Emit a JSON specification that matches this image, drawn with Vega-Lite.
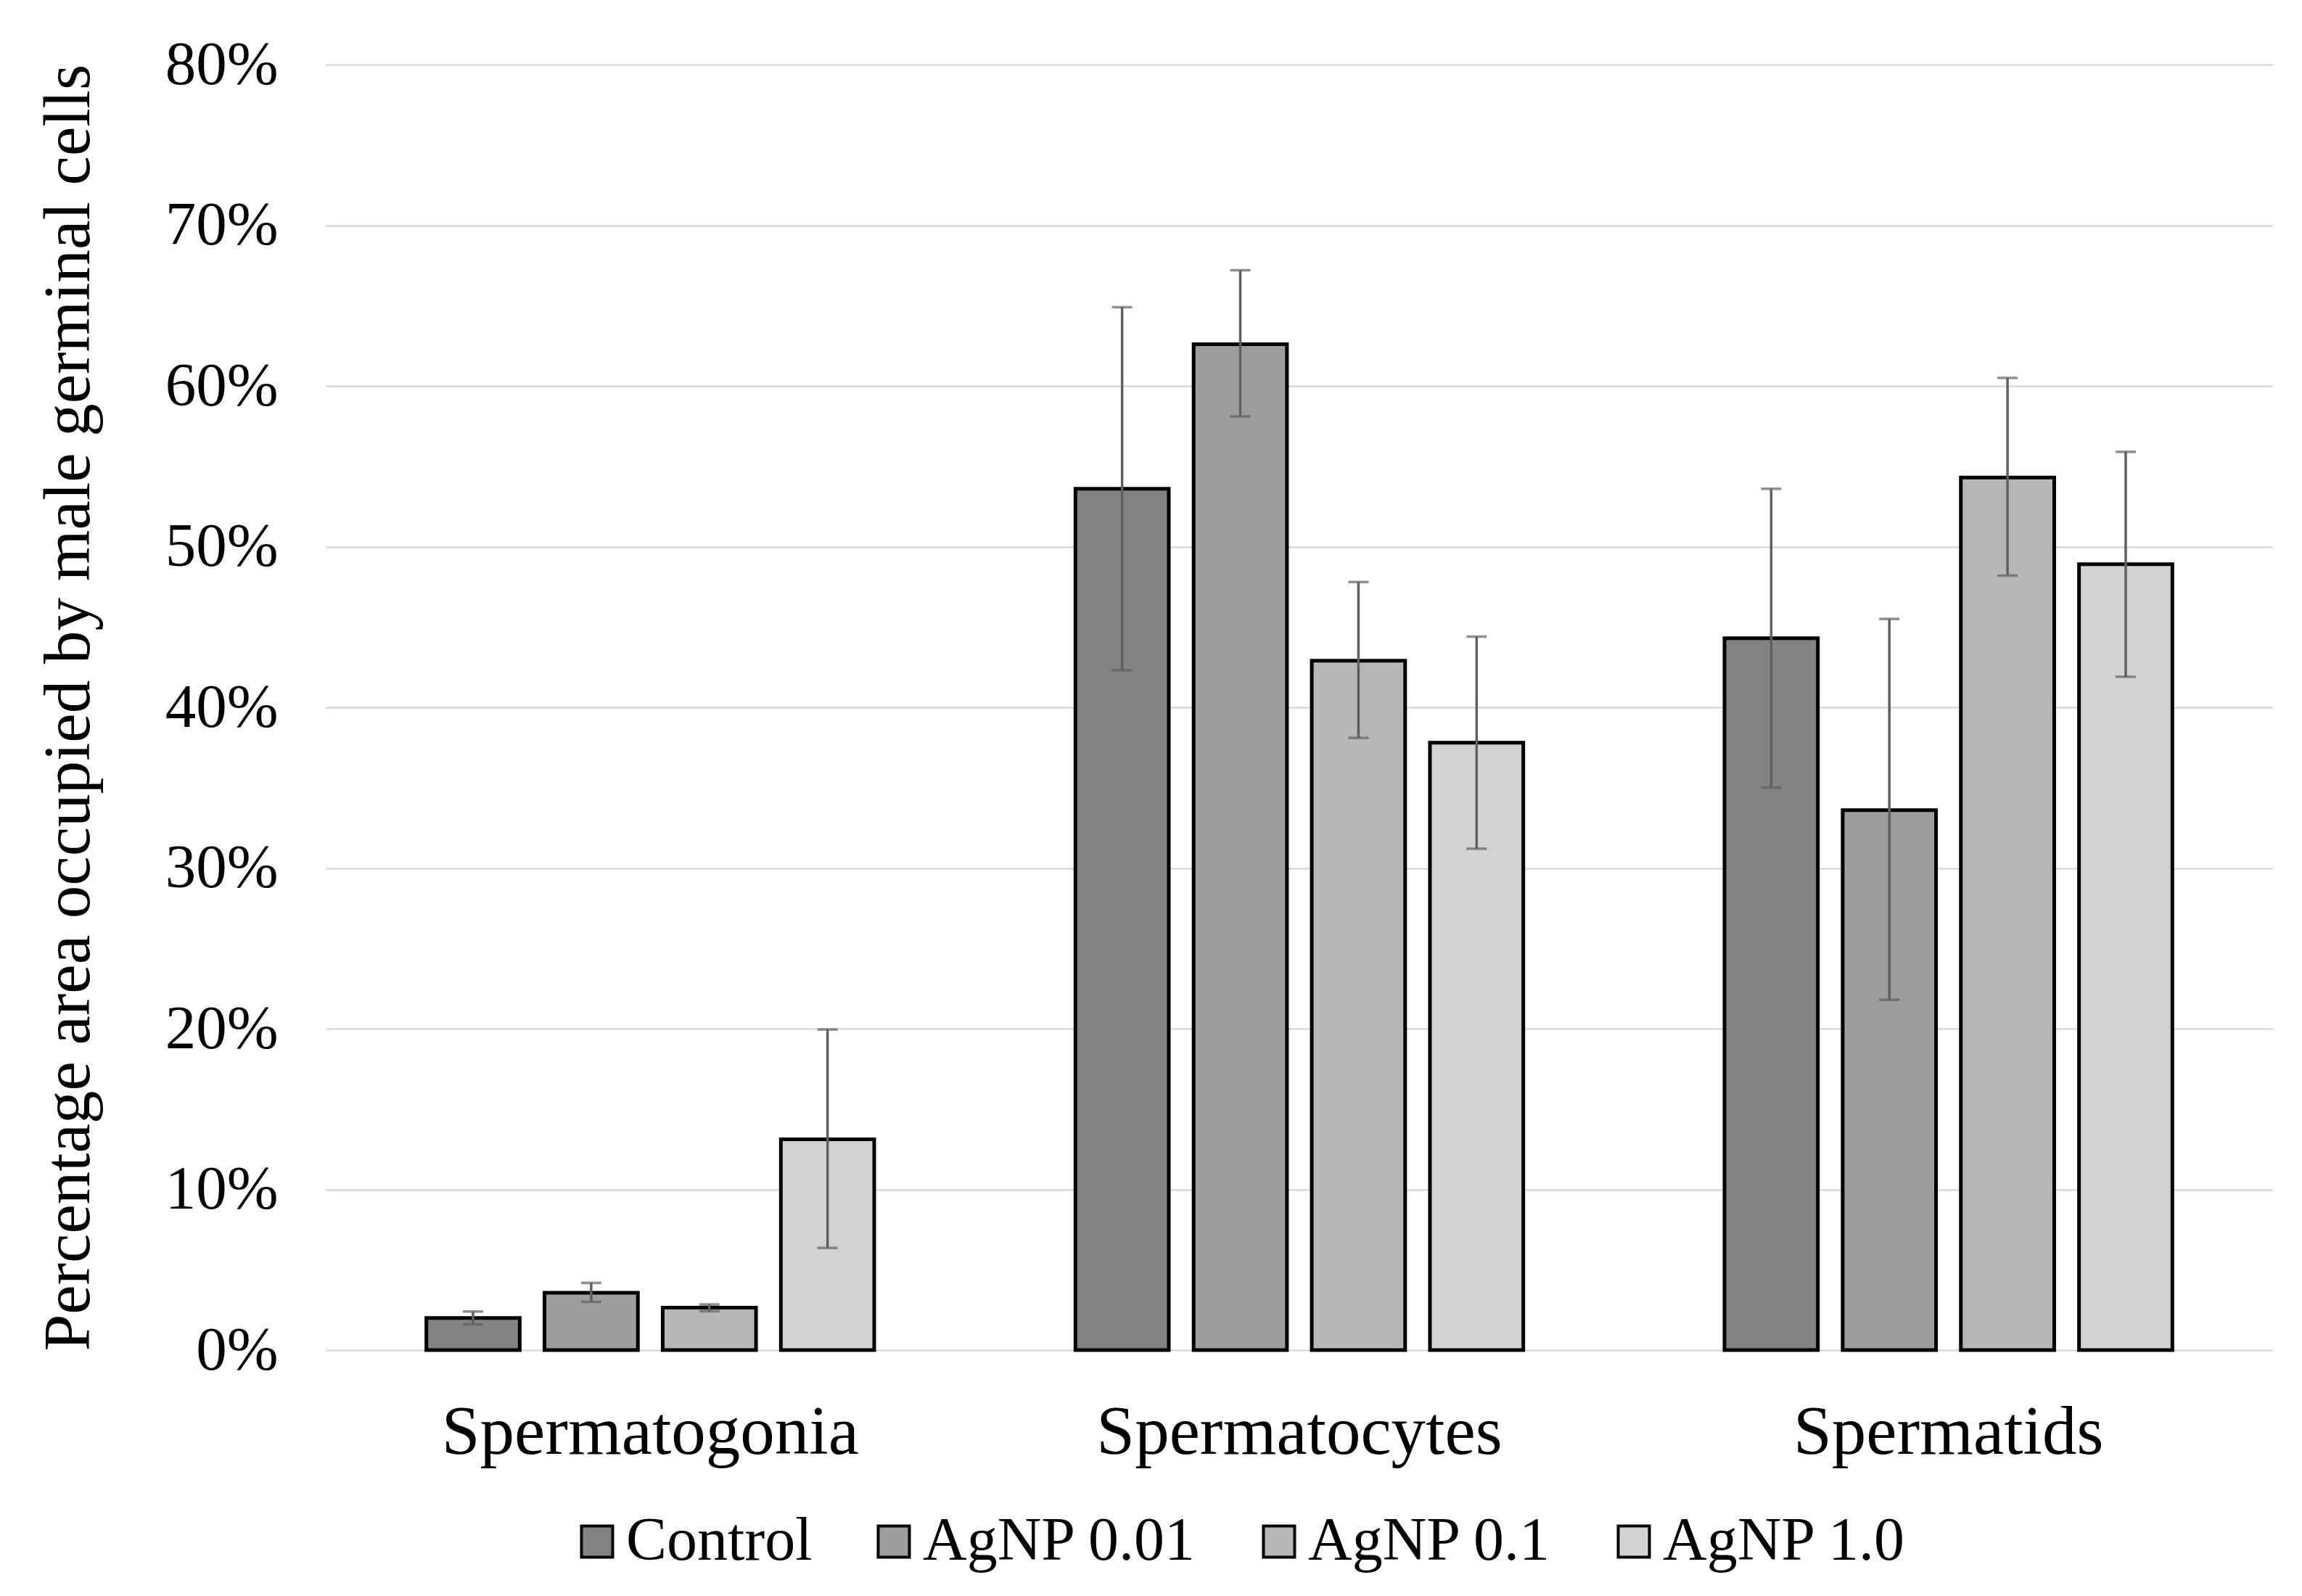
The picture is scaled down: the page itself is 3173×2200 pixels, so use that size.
{
  "$schema": "https://vega.github.io/schema/vega-lite/v6.json",
  "autosize": {"type": "none"},
  "width": 2684,
  "height": 1772,
  "padding": {"left": 449, "top": 89, "right": 40, "bottom": 339},
  "background": "white",
  "config": {
    "font": "Liberation Serif",
    "view": {"stroke": null},
    "axis": {"labelColor": "black", "titleColor": "black", "labelFont": "Liberation Serif", "titleFont": "Liberation Serif"},
    "legend": {"labelFont": "Liberation Serif", "labelColor": "black"}
  },
  "data": {
    "values": [
      {"cell": "Spermatogonia", "group": "Control", "mean": 2.0, "lo": 1.6, "hi": 2.4},
      {"cell": "Spermatogonia", "group": "AgNP 0.01", "mean": 3.57, "lo": 3.0, "hi": 4.18},
      {"cell": "Spermatogonia", "group": "AgNP 0.1", "mean": 2.64, "lo": 2.42, "hi": 2.84},
      {"cell": "Spermatogonia", "group": "AgNP 1.0", "mean": 13.12, "lo": 6.36, "hi": 19.95},
      {"cell": "Spermatocytes", "group": "Control", "mean": 53.6, "lo": 42.3, "hi": 64.9},
      {"cell": "Spermatocytes", "group": "AgNP 0.01", "mean": 62.6, "lo": 58.1, "hi": 67.2},
      {"cell": "Spermatocytes", "group": "AgNP 0.1", "mean": 42.9, "lo": 38.1, "hi": 47.8},
      {"cell": "Spermatocytes", "group": "AgNP 1.0", "mean": 37.8, "lo": 31.2, "hi": 44.4},
      {"cell": "Spermatids", "group": "Control", "mean": 44.3, "lo": 35.0, "hi": 53.6},
      {"cell": "Spermatids", "group": "AgNP 0.01", "mean": 33.6, "lo": 21.8, "hi": 45.5},
      {"cell": "Spermatids", "group": "AgNP 0.1", "mean": 54.3, "lo": 48.2, "hi": 60.5},
      {"cell": "Spermatids", "group": "AgNP 1.0", "mean": 48.9, "lo": 41.9, "hi": 55.9}
    ]
  },
  "encoding": {
    "x": {
      "field": "cell", "type": "nominal",
      "sort": ["Spermatogonia", "Spermatocytes", "Spermatids"],
      "scale": {"paddingInner": 0.31, "paddingOuter": 0.155},
      "axis": {"title": null, "labelAngle": 0, "labelFontSize": 95, "labelLimit": 0, "labelPadding": 67, "domain": false, "ticks": false, "grid": false}
    },
    "xOffset": {
      "field": "group", "type": "nominal",
      "sort": ["Control", "AgNP 0.01", "AgNP 0.1", "AgNP 1.0"],
      "scale": {"paddingInner": 0.21, "paddingOuter": 0}
    }
  },
  "layer": [
    {
      "mark": {"type": "bar", "stroke": "black", "strokeWidth": 5},
      "encoding": {
        "y": {
          "field": "mean", "type": "quantitative",
          "scale": {"domain": [0, 80], "nice": false},
          "axis": {
            "title": "Percentage area occupied by male germinal cells",
            "titleFontSize": 91, "titleFontWeight": "normal", "titlePadding": 108,
            "values": [0, 10, 20, 30, 40, 50, 60, 70, 80],
            "labelExpr": "datum.value + '%'",
            "labelFontSize": 85, "labelPadding": 66,
            "domain": false, "ticks": false,
            "grid": true, "gridColor": "#d9d9d9", "gridWidth": 2.5
          }
        },
        "color": {
          "field": "group", "type": "nominal",
          "sort": ["Control", "AgNP 0.01", "AgNP 0.1", "AgNP 1.0"],
          "scale": {"domain": ["Control", "AgNP 0.01", "AgNP 0.1", "AgNP 1.0"], "range": ["#838383", "#9d9d9d", "#b7b7b7", "#d2d2d2"]},
          "legend": {
            "title": null, "orient": "none", "direction": "horizontal",
            "legendX": 332, "legendY": 1994,
            "symbolType": "square", "symbolSize": 1850,
            "symbolStrokeColor": "black", "symbolStrokeWidth": 4,
            "labelFontSize": 84, "labelLimit": 0, "labelOffset": -2, "columnPadding": 70
          }
        }
      }
    },
    {
      "mark": {"type": "rule", "color": "#606060", "strokeWidth": 3.5},
      "encoding": {
        "y": {"field": "lo", "type": "quantitative"},
        "y2": {"field": "hi"}
      }
    },
    {
      "mark": {"type": "tick", "color": "#606060", "size": 28, "thickness": 3.5},
      "encoding": {"y": {"field": "lo", "type": "quantitative"}}
    },
    {
      "mark": {"type": "tick", "color": "#606060", "size": 28, "thickness": 3.5},
      "encoding": {"y": {"field": "hi", "type": "quantitative"}}
    }
  ]
}
